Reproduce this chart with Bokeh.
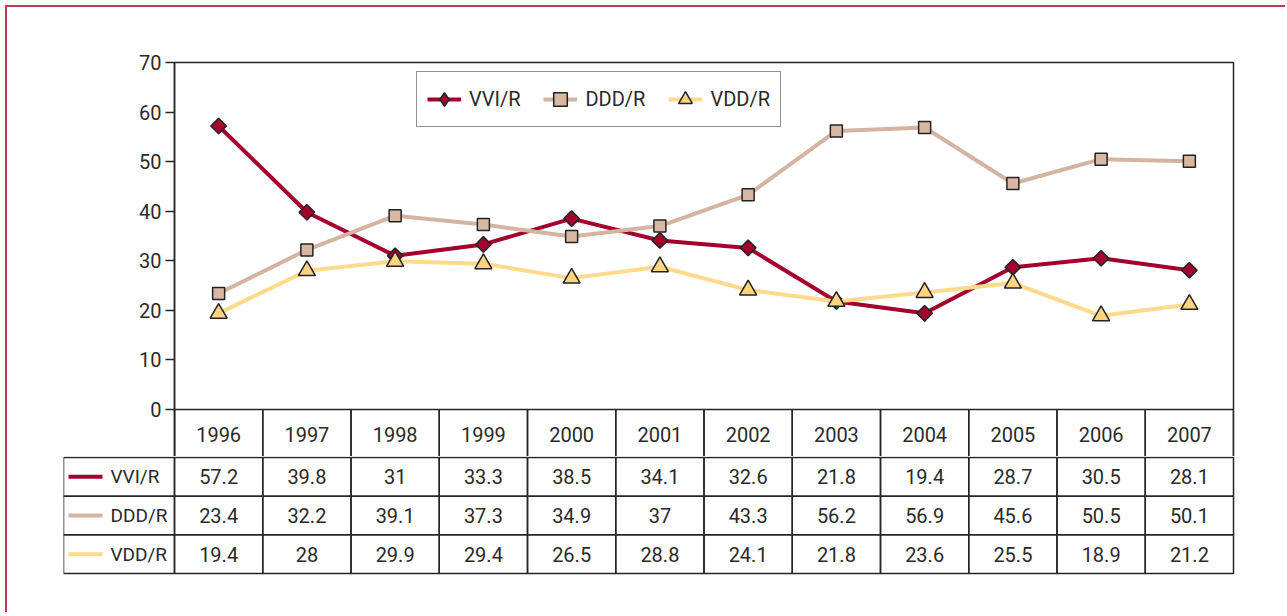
from bokeh.plotting import figure
from bokeh.models import Range1d, FixedTicker, Legend, LegendItem, ColumnDataSource
from bokeh.embed import file_html
from bokeh.resources import INLINE
from bokeh.core.properties import value

# ---- data ----
years = ["1996", "1997", "1998", "1999", "2000", "2001", "2002", "2003", "2004", "2005", "2006", "2007"]
vvi_r = [57.2, 39.8, 31, 33.3, 38.5, 34.1, 32.6, 21.8, 19.4, 28.7, 30.5, 28.1]
ddd_r = [23.4, 32.2, 39.1, 37.3, 34.9, 37, 43.3, 56.2, 56.9, 45.6, 50.5, 50.1]
vdd_r = [19.4, 28, 29.9, 29.4, 26.5, 28.8, 24.1, 21.8, 23.6, 25.5, 18.9, 21.2]
series_names = ["VVI/R", "DDD/R", "VDD/R"]
y_ticks = [0, 10, 20, 30, 40, 50, 60, 70]

# ---- styles ----
FONT = "Roboto"
FS = "20px"
TXT = "#2a2a2a"
LINE = "#262626"
RED_FRAME = "#c8365a"
line_colors = ["#a3002e", "#d4b4a0", "#ffd98c"]
fill_colors = ["#a3002e", "#d9b8a3", "#ffd480"]
markers = ["square", "square", "triangle"]
legend_markers = ["diamond", "square", "triangle"]
angles = [0.785398, 0.0, 0.0]
sizes = [11, 12, 17]
series = [vvi_r, ddd_r, vdd_r]

n = len(years)
OX = 7                      # page x/y where the content starts (after red frame)
W = 1280
frame_left, frame_w = 174 - OX, 1059
col_px = frame_w / n
top_border = 62 - OX
plot_h = 347
px_per_unit = plot_h / 70
header_px = 49
header_units = header_px / px_per_unit

# ---- top figure: chart + header row ----
p = figure(width=W, height=top_border + plot_h + header_px,
           x_range=Range1d(0, n), y_range=Range1d(-header_units, 70),
           x_axis_location=None, output_backend="svg", toolbar_location=None,
           min_border_left=frame_left, min_border_right=W - frame_left - frame_w,
           min_border_top=top_border, min_border_bottom=0)
p.styles = {"border-left": f"2px solid {RED_FRAME}", "border-top": f"2px solid {RED_FRAME}",
            "margin-left": "5px", "margin-top": "5px"}
p.grid.visible = False
p.outline_line_color = LINE
p.outline_line_width = 1.5
p.yaxis.ticker = FixedTicker(ticks=y_ticks, minor_ticks=[])
p.yaxis.major_tick_out = 9
p.yaxis.major_tick_in = 0
p.yaxis.axis_line_color = LINE
p.yaxis.axis_line_width = 1.5
p.yaxis.major_tick_line_color = LINE
p.yaxis.major_tick_line_width = 1.5
p.yaxis.major_label_text_font_size = FS
p.yaxis.major_label_text_font = FONT
p.yaxis.major_label_text_color = TXT
p.yaxis.major_label_standoff = 4

xs = [i + 0.5 for i in range(n)]
items = []
for name, vals, lc, fc, mk, lmk, ang, sz in zip(series_names, series, line_colors, fill_colors,
                                                 markers, legend_markers, angles, sizes):
    src = ColumnDataSource(dict(x=xs, y=vals))
    lr = p.line("x", "y", source=src, line_color=lc, line_width=4)
    rends = [lr]
    if lmk != mk:
        # legend-shaped marker, hidden under the rotated square in the plot
        rends.append(p.scatter("x", "y", source=src, marker=lmk, size=sz,
                               fill_color=fc, line_color="#222222", line_width=1.5))
    mr = p.scatter("x", "y", source=src, marker=mk, angle=ang, size=sz,
                   fill_color=fc, line_color="#222222", line_width=1.5)
    if lmk == mk:
        rends.append(mr)
    items.append(LegendItem(label=name, renderers=rends))

legend = Legend(items=items, orientation="horizontal", location=(242, plot_h + header_px - 65),
                border_line_color=LINE, border_line_width=1.5, padding=10, spacing=23,
                label_standoff=8, glyph_width=34, glyph_height=34, margin=0,
                label_text_font_size=FS, label_text_font=FONT, label_text_color=TXT)
p.add_layout(legend)

# header cells
hsrc = ColumnDataSource(dict(left=list(range(n)), right=[i + 1 for i in range(n)], x=xs, years=years))
p.quad(left="left", right="right", top=0, bottom=-header_units, source=hsrc,
       fill_color=None, line_color=LINE, line_width=1.5)
p.text(x="x", y=-header_units / 2, text="years", source=hsrc, text_align="center",
       text_baseline="middle", text_font=value(FONT), text_font_size=FS, text_color=TXT)

# ---- bottom figure: data rows ----
row_px = 116 / 3
label_px = 111
x0 = -label_px / col_px
bw_left, bw_frame = 63 - OX, 1172
top_pad = 1 / row_px
bh = 616 - 458 - 2
bframe_h = 120
t = figure(width=W, height=bh,
           x_range=Range1d(x0, x0 + bw_frame / col_px),
           y_range=Range1d(top_pad - bframe_h / row_px, top_pad),
           x_axis_location=None, y_axis_location=None,
           output_backend="svg", toolbar_location=None,
           min_border_left=bw_left, min_border_right=W - bw_left - bw_frame,
           min_border_top=0, min_border_bottom=bh - bframe_h)
t.styles = {"border-left": f"2px solid {RED_FRAME}", "margin-left": "5px"}
t.grid.visible = False
t.outline_line_color = None

for r, (name, vals, lc) in enumerate(zip(series_names, series, line_colors)):
    top = -r
    bot = -r - 1
    csrc = ColumnDataSource(dict(left=[x0] + list(range(n)), right=[0] + [i + 1 for i in range(n)]))
    t.quad(left="left", right="right", top=top, bottom=bot, source=csrc,
           fill_color=None, line_color=LINE, line_width=1.5)
    vsrc = ColumnDataSource(dict(x=xs, y=[bot + 0.5] * n, txt=[f"{v:g}" for v in vals]))
    t.text(x="x", y="y", text="txt", source=vsrc, text_align="center", text_baseline="middle",
           text_font=value(FONT), text_font_size=FS, text_color=TXT)
    t.segment(x0=(68 - 174) / col_px, x1=(102 - 174) / col_px, y0=bot + 0.5, y1=bot + 0.5,
              line_color=lc, line_width=4)
    t.text(x=[(110 - 174) / col_px], y=[bot + 0.5], text=[name], text_align="left",
           text_baseline="middle", text_font=value(FONT), text_font_size="19px", text_color=TXT)

open("out.html", "w").write(file_html([p, t], INLINE))
